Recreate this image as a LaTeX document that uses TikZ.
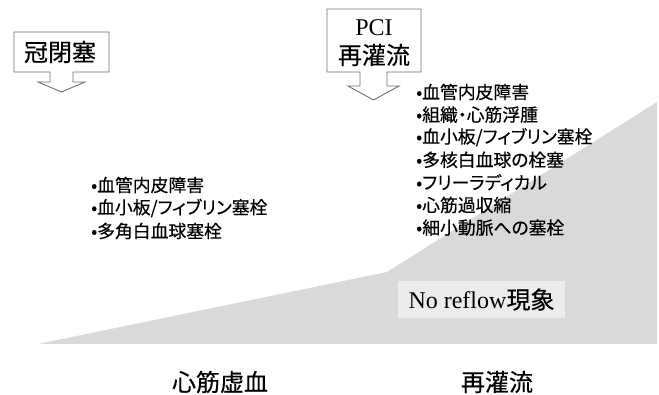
\documentclass[tikz,border=0pt]{standalone}
\usepackage{fontspec}
\setmainfont{Liberation Serif}
\newfontfamily\jp[RawFeature=+palt, FakeBold=0.4]{Noto Sans CJK JP}
\definecolor{areagray}{HTML}{D8D9DB}
\definecolor{boxgray}{HTML}{ECECEC}
\definecolor{linegray}{HTML}{707070}
\tikzset{
  listitem/.style={anchor=west, inner sep=0pt, font=\jp\fontsize{17.8}{18}\selectfont},
  biglabel/.style={inner sep=0pt, font=\jp\fontsize{24}{24}\selectfont},
  callout/.style={draw=linegray, line width=0.9pt, fill=white, line join=miter},
}
\begin{document}
\begin{tikzpicture}[x=1pt, y=-1pt]
\useasboundingbox (0,0) rectangle (659,395);
% grey area
\fill[areagray] (38,344) -- (387,272) -- (657,102) -- (657,344) -- cycle;
% No reflow box
\node[fill=boxgray, minimum width=167pt, minimum height=37pt, inner sep=0pt] (nr) at (481.5,299.5) {};
\node[inner sep=0pt, font=\fontsize{24}{24}\selectfont] (nrt) at (nr.center) {No reflow{\jp 現象}};
% callout 1
\draw[callout] (14,32) -- (109,32) -- (109,72) -- (73,72) -- (73,82) -- (85,82) -- (61.5,92)
  -- (38,82) -- (50,82) -- (50,72) -- (14,72) -- cycle;
\node[biglabel] (c1) at (60,52) {冠閉塞};
% callout 2
\draw[callout] (327,9) -- (421,9) -- (421,72) -- (387,72) -- (387,86) -- (399,86) -- (373.5,100)
  -- (348,86) -- (360,86) -- (360,72) -- (327,72) -- cycle;
\node[inner sep=0pt, font=\fontsize{24}{24}\selectfont] (c2a) at (374,28) {PCI};
\node[biglabel] (c2b) at (374,55) {再灌流};
% left list
\node[listitem] (l1) at (91,185) {•血管内皮障害};
\node[listitem] (l2) at (91,208) {•血小板/フィブリン塞栓};
\node[listitem] (l3) at (91,231) {•多角白血球塞栓};
% right list
\node[listitem] (r1) at (416,92) {•血管内皮障害};
\node[listitem] (r2) at (416,114.6) {•組織・心筋浮腫};
\node[listitem] (r3) at (416,137.2) {•血小板/フィブリン塞栓};
\node[listitem] (r4) at (416,159.8) {•多核白血球の栓塞};
\node[listitem] (r5) at (416,182.4) {•フリーラディカル};
\node[listitem] (r6) at (416,205) {•心筋過収縮};
\node[listitem] (r7) at (416,227.6) {•細小動脈への塞栓};
% bottom labels
\node[biglabel] (b1) at (220,382) {心筋虚血};
\node[biglabel] (b2) at (497,382) {再灌流};
\end{tikzpicture}
\end{document}
